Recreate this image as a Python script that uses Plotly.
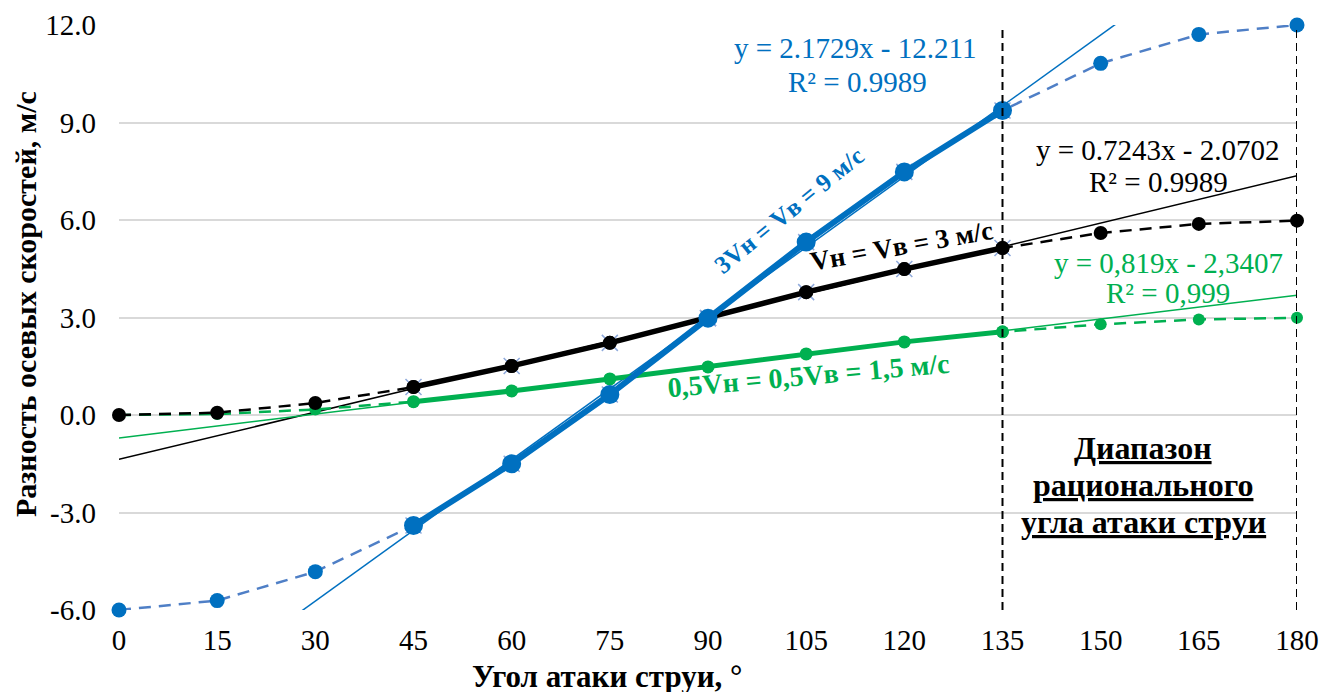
import numpy as np
import plotly.graph_objects as go

# ---- data ----
angles = [0, 15, 30, 45, 60, 75, 90, 105, 120, 135, 150, 165, 180]
blue_vals = [-6.0, -5.71, -4.82, -3.4, -1.5, 0.63, 2.98, 5.32, 7.48, 9.37, 10.82, 11.71, 12.0]
black_vals = [0.0, 0.07, 0.37, 0.86, 1.51, 2.22, 2.98, 3.78, 4.49, 5.14, 5.6, 5.88, 5.98]
green_vals = [0.0, 0.03, 0.17, 0.41, 0.74, 1.11, 1.48, 1.88, 2.25, 2.56, 2.79, 2.94, 2.99]
x_ticks = [0, 15, 30, 45, 60, 75, 90, 105, 120, 135, 150, 165, 180]
y_ticks = [-6, -3, 0, 3, 6, 9, 12]
fit_lo, fit_hi = 45, 135
range_bounds = [135, 180]

BLUE = "#0070C0"
BLUE_D = "#4F7FC6"
BLACK = "#000000"
GREEN = "#00B050"
XMARK = "#8EA9DB"
FONT = "Liberation Serif"

ang = np.array(angles)
sel = (ang >= fit_lo) & (ang <= fit_hi)
idx = ang / 15 + 1  # Excel category index


def trend(vals):
    a, b = np.polyfit(idx[sel], np.array(vals)[sel], 1)
    return [angles[0], angles[-1]], [a * idx[0] + b, a * idx[-1] + b]


fig = go.Figure()

# trendlines (thin)
for vals, col in [(blue_vals, BLUE), (black_vals, BLACK), (green_vals, GREEN)]:
    tx, ty = trend(vals)
    fig.add_trace(go.Scatter(x=tx, y=ty, mode="lines", line=dict(color=col, width=1.5),
                             hoverinfo="skip", showlegend=False))

# full dashed series
for vals, col, msize, mcol in [(green_vals, GREEN, 12, GREEN), (black_vals, BLACK, 14, BLACK),
                                (blue_vals, BLUE_D, 15, BLUE)]:
    fig.add_trace(go.Scatter(x=angles, y=vals, mode="lines+markers",
                             line=dict(color=col, width=2.5, dash="12px,8px"),
                             marker=dict(color=mcol, size=msize),
                             cliponaxis=False, showlegend=False))

sx = [a for a in angles if fit_lo <= a <= fit_hi]


def seg(vals):
    return [v for a, v in zip(angles, vals) if fit_lo <= a <= fit_hi]


# x markers
for vals in [black_vals, blue_vals]:
    fig.add_trace(go.Scatter(x=sx, y=seg(vals), mode="markers",
                             marker=dict(symbol="x-thin", size=16, line=dict(color=XMARK, width=1.5)),
                             cliponaxis=False, showlegend=False))

fig.add_trace(go.Scatter(x=sx, y=seg(green_vals), mode="lines+markers",
                         line=dict(color=GREEN, width=5), marker=dict(color=GREEN, size=13),
                         cliponaxis=False, showlegend=False))
fig.add_trace(go.Scatter(x=sx, y=seg(black_vals), mode="lines+markers",
                         line=dict(color=BLACK, width=5.5), marker=dict(color=BLACK, size=14),
                         cliponaxis=False, showlegend=False))
fig.add_trace(go.Scatter(x=sx, y=seg(blue_vals), mode="lines+markers",
                         line=dict(color=BLUE, width=6), marker=dict(color=BLUE, size=19),
                         cliponaxis=False, showlegend=False))

# vertical dashed lines
for xb in range_bounds:
    fig.add_shape(type="line", x0=xb, x1=xb, y0=0, y1=1, xref="x", yref="paper",
                  line=dict(color="black", width=2, dash="8px,5px"))

ann = []


def txt(x, y, s, col, size, angle=0, bold=False):
    ann.append(dict(x=x, y=y, xref="x", yref="y", text=("<b>%s</b>" % s) if bold else s,
                    showarrow=False, textangle=angle, xanchor="center", yanchor="middle",
                    font=dict(family=FONT, size=size, color=col)))


txt(112.5, 11.29, "y = 2.1729x - 12.211", BLUE, 29)
txt(112.8, 10.25, "R² = 0.9989", BLUE, 29)
txt(158.8, 8.15, "y = 0.7243x - 2.0702", BLACK, 29)
txt(158.8, 7.17, "R² = 0.9989", BLACK, 29)
txt(160.3, 4.68, "y = 0,819x - 2,3407", GREEN, 29)
txt(160.3, 3.75, "R² = 0,999", GREEN, 29)
txt(102.3, 6.3, "3Vн = Vв = 9 м/с", BLUE, 25, angle=-39, bold=True)
txt(119.5, 5.2, "Vн = Vв = 3 м/с", BLACK, 27, angle=-10, bold=True)
txt(105.3, 1.22, "0,5Vн = 0,5Vв = 1,5 м/с", GREEN, 28, angle=-5, bold=True)

for line, yv in [("Диапазон", -1.02), ("рационального", -2.15), ("угла атаки струи", -3.29)]:
    txt(156.5, yv, "<u>%s</u>" % line, BLACK, 32, bold=True)

ann.append(dict(x=0.414, y=-0.113, xref="paper", yref="paper", showarrow=False,
                xanchor="center", yanchor="middle",
                text="<b>Угол атаки струи, °</b>", font=dict(family=FONT, size=31, color="black")))
ann.append(dict(x=-0.0798, y=0.523, xref="paper", yref="paper", showarrow=False, textangle=-90,
                xanchor="center", yanchor="middle",
                text="<b>Разность осевых скоростей, м/с</b>", font=dict(family=FONT, size=30, color="black")))

fig.update_layout(
    width=1336, height=692,
    margin=dict(l=111, r=47, t=17, b=90),
    plot_bgcolor="white", paper_bgcolor="white",
    annotations=ann, showlegend=False,
    font=dict(family=FONT, size=29, color="black"),
    xaxis=dict(range=[0, 180], tickvals=x_ticks, ticktext=[str(t) for t in x_ticks],
               showgrid=False, zeroline=False, showline=False, ticks="", automargin=False,
               ticklabelstandoff=10, tickfont=dict(family=FONT, size=29, color="black")),
    yaxis=dict(range=[-6, 12], tickvals=y_ticks, ticktext=["%.1f" % t for t in y_ticks],
               showgrid=True, gridcolor="#D9D9D9", gridwidth=1.5, zeroline=False, showline=False,
               ticks="", automargin=False, ticklabelstandoff=22,
               tickfont=dict(family=FONT, size=29, color="black")),
)

fig.write_html("out.html")
